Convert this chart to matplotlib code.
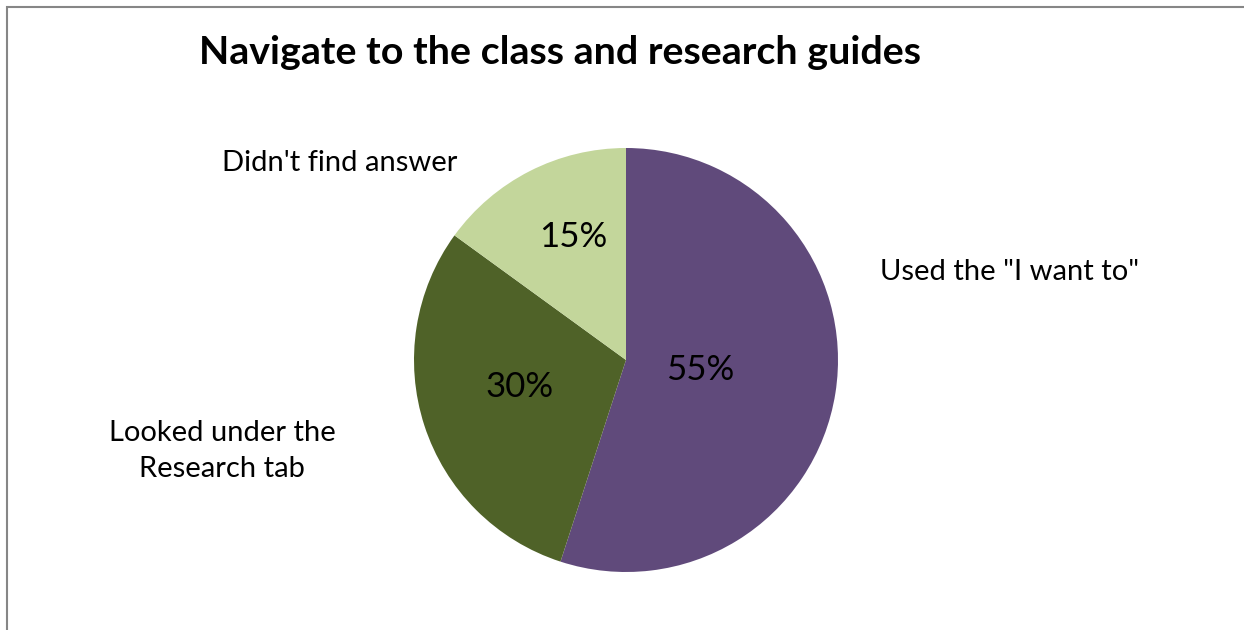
import matplotlib
matplotlib.use("Agg")
import matplotlib.pyplot as plt
import matplotlib.patches as mpatches

W, H = 1244, 630
DPI = 100

categories = ['Used the "I want to"', "Looked under the\nResearch tab", "Didn't find answer"]
shares = [55, 30, 15]
colors = ["#604A7B", "#4F6228", "#C3D69B"]

plt.rcParams["font.family"] = ["Lato", "DejaVu Sans"]

fig = plt.figure(figsize=(W / DPI, H / DPI), dpi=DPI, facecolor="white")

# chart frame (right/bottom edges run off the image)
fig.patches.append(mpatches.Rectangle(
    (7 / W, -0.05), 1.2, 1 - 7 / H + 0.05, transform=fig.transFigure,
    fill=False, edgecolor="#868686", linewidth=1.5))

# pie axes: centre (626, 360), radius 212 px
cx, cy, r = 626, 360, 212
ax = fig.add_axes([(cx - r) / W, (H - cy - r) / H, 2 * r / W, 2 * r / H])
ax.pie(shares, colors=colors, startangle=90, counterclock=False,
       radius=1, wedgeprops=dict(linewidth=0))
ax.set_xlim(-1, 1)
ax.set_ylim(-1, 1)
ax.set_aspect("equal")
ax.axis("off")


def px(x, y):
    return x / W, 1 - y / H


fig.text(*px(560, 52), "Navigate to the class and research guides",
         fontsize=28.4, fontweight="bold", ha="center", va="center")

pct_pos = [(700, 370), (520, 387), (573, 237)]
for (x, y), v in zip(pct_pos, shares):
    fig.text(*px(x, y), f"{v}%", fontsize=25, ha="center", va="center")

cat_pos = [(1010, 272), (222, 451), (340, 163)]
for (x, y), c in zip(cat_pos, categories):
    fig.text(*px(x, y), c, fontsize=21, ha="center", va="center",
             linespacing=1.45)

fig.savefig("out.png", dpi=DPI, facecolor="white")
